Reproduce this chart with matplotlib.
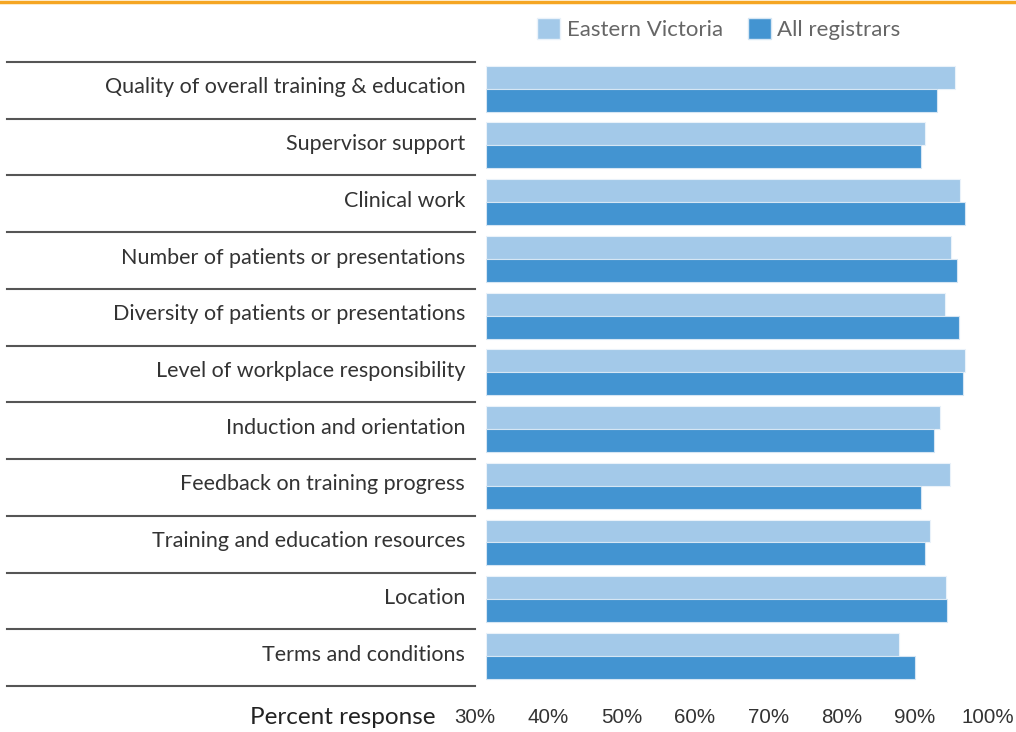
import matplotlib
matplotlib.use("Agg")
import matplotlib.pyplot as plt
import matplotlib.transforms as mtransforms
from matplotlib.patches import Patch
import numpy as np

categories = [
    "Quality of overall training & education",
    "Supervisor support",
    "Clinical work",
    "Number of patients or presentations",
    "Diversity of patients or presentations",
    "Level of workplace responsibility",
    "Induction and orientation",
    "Feedback on training progress",
    "Training and education resources",
    "Location",
    "Terms and conditions",
]
eastern_victoria = [94.0, 89.9, 94.7, 93.4, 92.6, 95.3, 91.9, 93.3, 90.6, 92.7, 86.4]
all_registrars = [91.5, 89.4, 95.4, 94.3, 94.5, 95.1, 91.1, 89.3, 89.9, 92.9, 88.6]
x_ticks = [30, 40, 50, 60, 70, 80, 90, 100]
tick_labels = [f"{t}%" for t in x_ticks]

light = "#A3C9E9"
dark = "#4394D1"
text_font = ["Lato", "DejaVu Sans"]

W, H = 1016, 732
fig = plt.figure(figsize=(W / 100, H / 100), dpi=100)
ax = fig.add_axes([486 / W, 1 - 686 / H, (999 - 486) / W, (686 - 62) / H])

n = len(categories)
y = np.arange(n) + 0.5 - 0.03
bh = 0.405
ax.barh(y - bh / 2, np.array(eastern_victoria) - 30, left=30, height=bh,
        color=light, edgecolor="#EAF2FA", linewidth=0.8, label="Eastern Victoria")
ax.barh(y + bh / 2, np.array(all_registrars) - 30, left=30, height=bh,
        color=dark, edgecolor="#D6E6F4", linewidth=0.8, label="All registrars")

ax.set_xlim(30, 100)
ax.set_ylim(n, 0)
for s in ax.spines.values():
    s.set_visible(False)

ax.set_yticks(np.arange(n) + 0.5)
ax.set_yticklabels(categories, fontsize=15.5, color="#333333", family=text_font)
ax.tick_params(axis="y", length=0, pad=15)
up = mtransforms.ScaledTranslation(0, 5 / 100, fig.dpi_scale_trans)
for lab in ax.get_yticklabels():
    lab.set_transform(lab.get_transform() + up)

ax.set_xticks(x_ticks)
ax.set_xticklabels(tick_labels, fontsize=14.8, color="#333333", family="Liberation Sans")
ax.tick_params(axis="x", length=0, pad=16)
shift = mtransforms.ScaledTranslation(-11 / 100, 0, fig.dpi_scale_trans)
for lab in ax.get_xticklabels():
    lab.set_transform(lab.get_transform() + shift)

# row separators on the label side
trans = mtransforms.blended_transform_factory(fig.transFigure, ax.transData)
for i in range(n + 1):
    ax.plot([7 / W, 475 / W], [i, i], transform=trans, color="#555555",
            linewidth=1.5, clip_on=False)

fig.text(435 / W, 1 - 718 / H, "Percent response", ha="right", va="center",
         fontsize=17.5, color="#222222", family=text_font)

# orange top rule
fig.add_artist(plt.Line2D([0, 1], [1 - 1.5 / H, 1 - 1.5 / H], color="#F5A623", linewidth=2.5))

handles = [Patch(facecolor=light, edgecolor="#EAF2FA"), Patch(facecolor=dark, edgecolor="#D6E6F4")]
fig.legend(handles, ["Eastern Victoria", "All registrars"], loc="center",
           bbox_to_anchor=(719 / W, 1 - 29 / H), ncol=2, frameon=False,
           handlelength=1.04, handleheight=1.04, handletextpad=0.3, columnspacing=1.1,
           prop={"family": text_font, "size": 16}, labelcolor="#666666")

fig.savefig("out.png", dpi=100)
